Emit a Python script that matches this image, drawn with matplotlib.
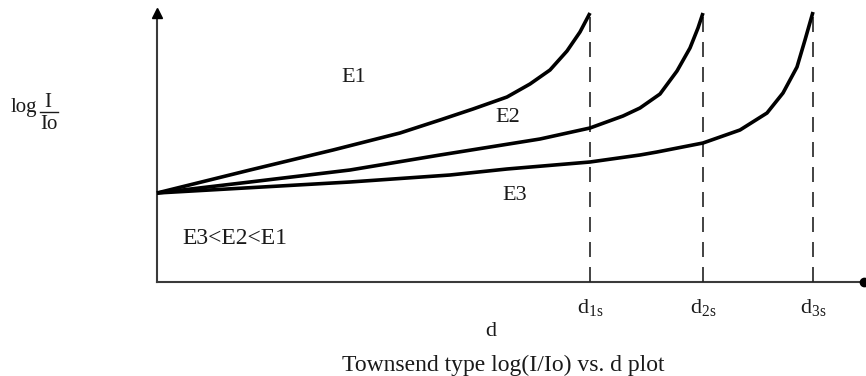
import matplotlib.pyplot as plt

plt.rcParams['font.family'] = ['Liberation Serif', 'DejaVu Serif']
plt.rcParams['mathtext.fontset'] = 'custom'
plt.rcParams['mathtext.rm'] = 'Liberation Serif'
plt.rcParams['mathtext.it'] = 'Liberation Serif'

# gap length d (arbitrary units) and log(I/Io) for three field strengths
d_E1 = [0.00, 0.93, 1.76, 2.43, 2.83, 3.16, 3.50, 3.73, 3.93, 4.10, 4.23, 4.33]
y_E1 = [0.89, 1.12, 1.32, 1.49, 1.62, 1.73, 1.85, 1.98, 2.12, 2.31, 2.50, 2.69]

d_E2 = [0.00, 0.93, 1.93, 2.83, 3.33, 3.83, 4.33, 4.66, 4.83, 5.03, 5.20, 5.33, 5.41, 5.46]
y_E2 = [0.89, 1.00, 1.12, 1.27, 1.35, 1.43, 1.54, 1.66, 1.74, 1.88, 2.11, 2.34, 2.54, 2.69]

d_E3 = [0.00, 1.93, 2.93, 3.50, 4.33, 4.83, 5.00, 5.46, 5.83, 6.10, 6.26, 6.40, 6.48, 6.56]
y_E3 = [0.89, 1.00, 1.07, 1.13, 1.20, 1.27, 1.30, 1.39, 1.52, 1.69, 1.89, 2.15, 2.42, 2.70]

# sparking distances
d_spark = [4.33, 5.46, 6.56]
spark_labels = ['1s', '2s', '3s']

fig = plt.figure(figsize=(8.66, 3.76), dpi=100)
ax = fig.add_axes([0, 0, 1, 1])
ax.set_xlim(-1.57, 7.09)
ax.set_ylim(-0.94, 2.82)
ax.axis('off')

axis_col = '#3a3a3a'
ax.plot([0, 0], [0, 2.66], color=axis_col, lw=1.5)
ax.plot([0, 7.07], [0, 0], color=axis_col, lw=1.5)
ax.plot(0, 2.69, marker='^', color='black', ms=7)
ax.plot(7.07, 0, marker='o', color='black', ms=6, clip_on=False)

for d in d_spark:
    ax.plot([d, d], [0, 2.70], color='#222222', lw=1.2, dashes=(9, 6))

for xs, ys in [(d_E1, y_E1), (d_E2, y_E2), (d_E3, y_E3)]:
    ax.plot(xs, ys, color='black', lw=2.6, solid_joinstyle='round',
            solid_capstyle='butt')

tc = '#1a1a1a'
txt = dict(color=tc, ha='center', va='center')
ax.text(1.97, 2.05, 'E1', fontsize=16, **txt)
ax.text(3.51, 1.64, 'E2', fontsize=16, **txt)
ax.text(3.58, 0.86, 'E3', fontsize=16, **txt)
ax.text(0.25, 0.44, 'E3<E2<E1', fontsize=17, color=tc, ha='left', va='center')

for d, lab in zip(d_spark, spark_labels):
    ax.text(d, -0.26, r'$\mathrm{d}_{\mathrm{%s}}$' % lab, fontsize=16, **txt)

ax.text(3.34, -0.50, 'd', fontsize=16, **txt)
ax.text(3.46, -0.83, 'Townsend type log(I/Io) vs. d plot', fontsize=17, **txt)

# y label: log I/Io written as a stacked fraction
ax.text(-1.33, 1.70, 'log', fontsize=15, color=tc, ha='center', va='baseline')
ax.text(-1.09, 1.75, 'I', fontsize=15, color=tc, ha='center', va='baseline')
ax.text(-1.08, 1.53, 'Io', fontsize=15, color=tc, ha='center', va='baseline')
ax.plot([-1.17, -0.99], [1.70, 1.70], color=tc, lw=1.0)

fig.savefig('out.png', dpi=100)
